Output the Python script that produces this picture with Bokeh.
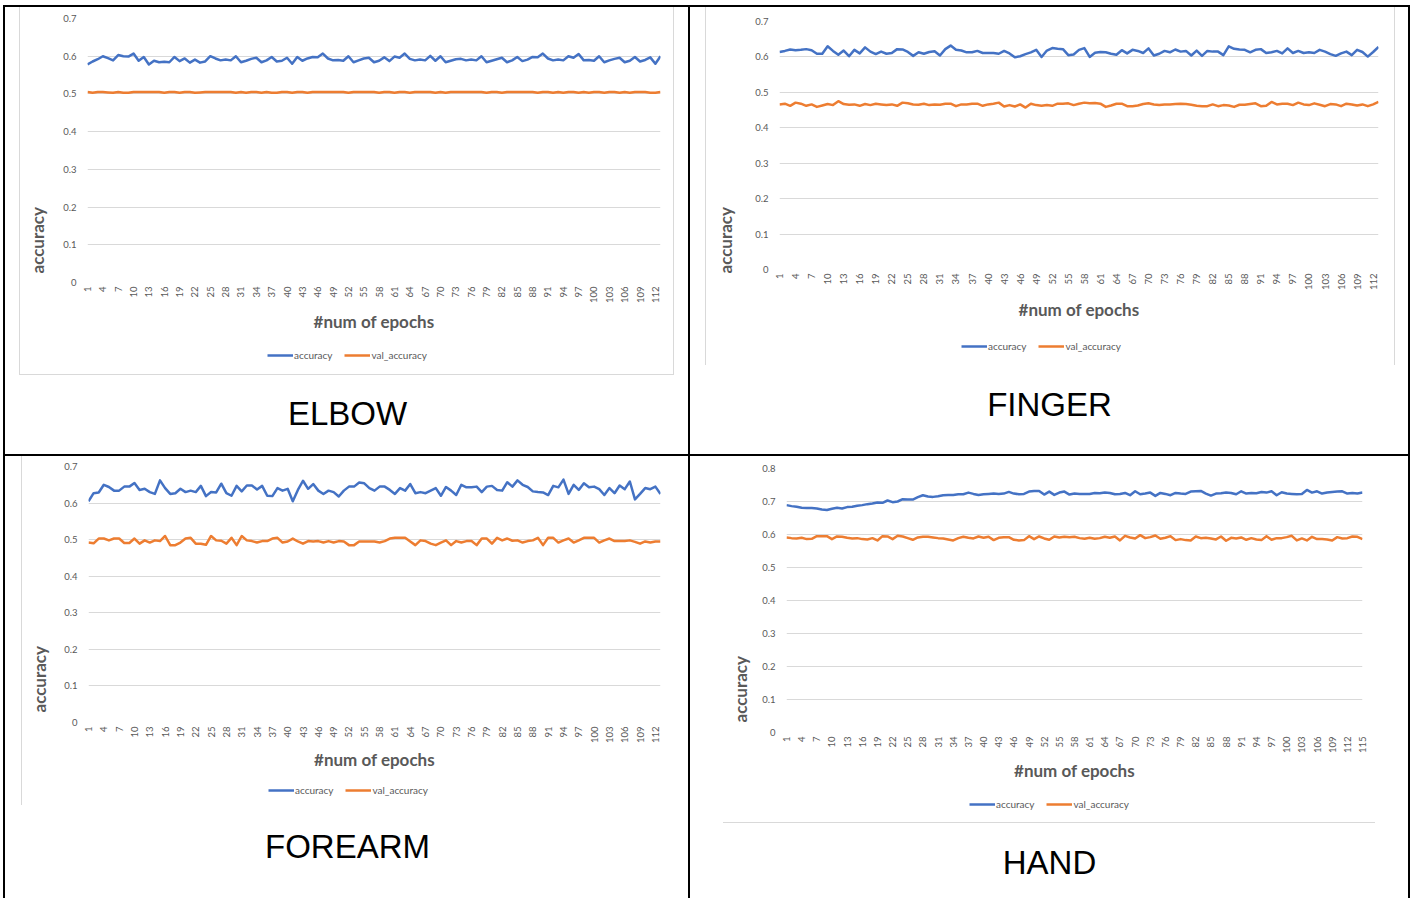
import math
from bokeh.plotting import figure
from bokeh.layouts import row, column
from bokeh.models import (Legend, LegendItem, FixedTicker, Range1d, Title,
                          CustomJSTickFormatter)
from bokeh.core.properties import value
from bokeh.embed import file_html
from bokeh.resources import INLINE

# ---------------- data ----------------
CAPTIONS = ["ELBOW", "FINGER", "FOREARM", "HAND"]
SERIES_NAMES = ["accuracy", "val_accuracy"]
X_TITLE = "#num of epochs"
Y_TITLE = "accuracy"
Y_TICKS_07 = [0, 0.1, 0.2, 0.3, 0.4, 0.5, 0.6, 0.7]
Y_TICKS_08 = [0, 0.1, 0.2, 0.3, 0.4, 0.5, 0.6, 0.7, 0.8]
X_TICK_STEP = 3

ELBOW_ACC = [
    0.578, 0.586, 0.592, 0.600, 0.595, 0.589, 0.603, 0.600, 0.599, 0.607,
    0.588, 0.598, 0.578, 0.588, 0.584, 0.585, 0.584, 0.598, 0.587, 0.594,
    0.583, 0.591, 0.583, 0.586, 0.600, 0.594, 0.589, 0.591, 0.589, 0.600,
    0.584, 0.588, 0.593, 0.596, 0.584, 0.589, 0.598, 0.586, 0.588, 0.596,
    0.580, 0.598, 0.588, 0.594, 0.598, 0.597, 0.607, 0.594, 0.589, 0.590,
    0.588, 0.600, 0.584, 0.589, 0.594, 0.596, 0.584, 0.588, 0.597, 0.587,
    0.599, 0.596, 0.607, 0.593, 0.589, 0.591, 0.589, 0.601, 0.588, 0.600,
    0.584, 0.588, 0.592, 0.593, 0.589, 0.591, 0.589, 0.600, 0.584, 0.588,
    0.592, 0.596, 0.584, 0.589, 0.598, 0.587, 0.591, 0.598, 0.597, 0.607,
    0.594, 0.589, 0.591, 0.589, 0.600, 0.596, 0.606, 0.589, 0.590, 0.588,
    0.600, 0.584, 0.589, 0.593, 0.596, 0.584, 0.588, 0.598, 0.586, 0.590,
    0.597, 0.580, 0.600,
]
ELBOW_VAL = [
    0.505, 0.503, 0.505, 0.505, 0.504, 0.503, 0.505, 0.503, 0.503, 0.505,
    0.505, 0.505, 0.505, 0.505, 0.505, 0.503, 0.505, 0.505, 0.503, 0.505,
    0.505, 0.503, 0.504, 0.505, 0.505, 0.505, 0.505, 0.505, 0.505, 0.503,
    0.505, 0.503, 0.505, 0.505, 0.503, 0.505, 0.503, 0.503, 0.505, 0.505,
    0.503, 0.505, 0.505, 0.503, 0.505, 0.505, 0.505, 0.505, 0.505, 0.505,
    0.505, 0.503, 0.505, 0.505, 0.505, 0.505, 0.505, 0.503, 0.505, 0.505,
    0.503, 0.505, 0.505, 0.503, 0.505, 0.505, 0.505, 0.505, 0.503, 0.505,
    0.503, 0.505, 0.505, 0.505, 0.505, 0.505, 0.505, 0.505, 0.503, 0.505,
    0.505, 0.503, 0.505, 0.505, 0.505, 0.505, 0.505, 0.505, 0.503, 0.505,
    0.505, 0.503, 0.505, 0.503, 0.505, 0.505, 0.503, 0.505, 0.503, 0.505,
    0.505, 0.503, 0.505, 0.505, 0.503, 0.505, 0.503, 0.505, 0.505, 0.505,
    0.503, 0.503, 0.505,
]
FINGER_ACC = [
    0.614, 0.617, 0.621, 0.619, 0.620, 0.622, 0.619, 0.609, 0.609, 0.630,
    0.617, 0.606, 0.618, 0.602, 0.620, 0.610, 0.627, 0.615, 0.608, 0.615,
    0.609, 0.611, 0.622, 0.621, 0.614, 0.603, 0.613, 0.609, 0.614, 0.616,
    0.604, 0.622, 0.632, 0.620, 0.618, 0.613, 0.613, 0.617, 0.611, 0.611,
    0.611, 0.609, 0.617, 0.610, 0.599, 0.602, 0.608, 0.613, 0.620, 0.600,
    0.618, 0.625, 0.623, 0.622, 0.605, 0.607, 0.620, 0.625, 0.600, 0.612,
    0.614, 0.613, 0.609, 0.606, 0.619, 0.610, 0.620, 0.617, 0.611, 0.624,
    0.604, 0.609, 0.617, 0.613, 0.621, 0.615, 0.617, 0.604, 0.618, 0.603,
    0.617, 0.615, 0.615, 0.605, 0.630, 0.623, 0.621, 0.620, 0.613, 0.620,
    0.622, 0.611, 0.613, 0.617, 0.610, 0.624, 0.611, 0.617, 0.611, 0.613,
    0.611, 0.620, 0.615, 0.608, 0.603, 0.610, 0.615, 0.605, 0.620, 0.614,
    0.601, 0.614, 0.628,
]
FINGER_VAL = [
    0.466, 0.468, 0.462, 0.471, 0.468, 0.462, 0.466, 0.459, 0.463, 0.467,
    0.464, 0.475, 0.467, 0.465, 0.466, 0.462, 0.467, 0.464, 0.468, 0.466,
    0.464, 0.466, 0.462, 0.471, 0.469, 0.466, 0.465, 0.468, 0.464, 0.466,
    0.465, 0.468, 0.468, 0.461, 0.466, 0.466, 0.468, 0.468, 0.462, 0.466,
    0.468, 0.471, 0.460, 0.464, 0.460, 0.466, 0.457, 0.468, 0.464, 0.462,
    0.464, 0.462, 0.468, 0.468, 0.469, 0.464, 0.468, 0.471, 0.469, 0.470,
    0.468, 0.459, 0.463, 0.468, 0.468, 0.461, 0.461, 0.463, 0.467, 0.469,
    0.466, 0.464, 0.466, 0.466, 0.467, 0.468, 0.467, 0.465, 0.462, 0.461,
    0.461, 0.466, 0.461, 0.464, 0.463, 0.459, 0.465, 0.465, 0.467, 0.469,
    0.461, 0.462, 0.473, 0.466, 0.468, 0.468, 0.464, 0.471, 0.466, 0.464,
    0.469, 0.465, 0.461, 0.467, 0.466, 0.461, 0.468, 0.466, 0.463, 0.466,
    0.461, 0.466, 0.473,
]
FOREARM_ACC = [
    0.605, 0.627, 0.629, 0.650, 0.644, 0.634, 0.634, 0.645, 0.645, 0.655,
    0.636, 0.639, 0.630, 0.625, 0.662, 0.641, 0.625, 0.627, 0.639, 0.630,
    0.634, 0.630, 0.647, 0.619, 0.630, 0.629, 0.653, 0.627, 0.620, 0.647,
    0.632, 0.648, 0.648, 0.637, 0.647, 0.620, 0.619, 0.641, 0.634, 0.639,
    0.605, 0.636, 0.661, 0.639, 0.652, 0.634, 0.625, 0.634, 0.630, 0.618,
    0.634, 0.645, 0.645, 0.656, 0.654, 0.641, 0.634, 0.645, 0.645, 0.636,
    0.625, 0.641, 0.634, 0.652, 0.627, 0.630, 0.627, 0.634, 0.641, 0.620,
    0.644, 0.634, 0.622, 0.650, 0.643, 0.643, 0.645, 0.630, 0.645, 0.647,
    0.636, 0.634, 0.657, 0.645, 0.662, 0.650, 0.644, 0.632, 0.630, 0.629,
    0.622, 0.647, 0.643, 0.664, 0.625, 0.650, 0.636, 0.654, 0.643, 0.645,
    0.638, 0.622, 0.641, 0.627, 0.648, 0.638, 0.659, 0.610, 0.625, 0.641,
    0.638, 0.645, 0.625,
]
FOREARM_VAL = [
    0.492, 0.490, 0.503, 0.503, 0.498, 0.503, 0.503, 0.491, 0.491, 0.503,
    0.489, 0.498, 0.492, 0.498, 0.496, 0.510, 0.485, 0.485, 0.492, 0.503,
    0.505, 0.489, 0.489, 0.486, 0.510, 0.498, 0.497, 0.489, 0.505, 0.485,
    0.510, 0.498, 0.496, 0.492, 0.496, 0.496, 0.503, 0.505, 0.492, 0.495,
    0.503, 0.495, 0.489, 0.496, 0.495, 0.496, 0.492, 0.496, 0.492, 0.496,
    0.495, 0.485, 0.485, 0.495, 0.495, 0.495, 0.495, 0.492, 0.496, 0.503,
    0.505, 0.505, 0.505, 0.495, 0.485, 0.498, 0.496, 0.489, 0.485, 0.492,
    0.498, 0.485, 0.496, 0.492, 0.496, 0.496, 0.485, 0.503, 0.503, 0.489,
    0.505, 0.498, 0.503, 0.497, 0.498, 0.492, 0.496, 0.498, 0.505, 0.485,
    0.505, 0.505, 0.492, 0.498, 0.503, 0.492, 0.498, 0.505, 0.505, 0.505,
    0.492, 0.498, 0.503, 0.496, 0.496, 0.496, 0.498, 0.494, 0.489, 0.495,
    0.492, 0.495, 0.495,
]
HAND_ACC = [
    0.689, 0.686, 0.684, 0.681, 0.680, 0.680, 0.679, 0.676, 0.674, 0.678,
    0.681, 0.679, 0.683, 0.684, 0.687, 0.689, 0.692, 0.694, 0.697, 0.696,
    0.703, 0.698, 0.700, 0.707, 0.706, 0.706, 0.713, 0.719, 0.715, 0.714,
    0.716, 0.719, 0.720, 0.720, 0.722, 0.722, 0.727, 0.723, 0.720, 0.722,
    0.723, 0.724, 0.723, 0.724, 0.729, 0.724, 0.722, 0.723, 0.730, 0.732,
    0.732, 0.721, 0.730, 0.720, 0.727, 0.730, 0.721, 0.724, 0.723, 0.723,
    0.723, 0.726, 0.725, 0.727, 0.726, 0.722, 0.723, 0.726, 0.719, 0.731,
    0.722, 0.724, 0.727, 0.717, 0.726, 0.723, 0.719, 0.726, 0.724, 0.723,
    0.730, 0.731, 0.732, 0.724, 0.718, 0.724, 0.725, 0.727, 0.726, 0.722,
    0.731, 0.724, 0.726, 0.725, 0.729, 0.727, 0.731, 0.719, 0.728, 0.724,
    0.723, 0.722, 0.723, 0.735, 0.727, 0.731, 0.724, 0.727, 0.729, 0.730,
    0.731, 0.724, 0.726, 0.724, 0.727,
]
HAND_VAL = [
    0.591, 0.589, 0.588, 0.590, 0.586, 0.587, 0.595, 0.595, 0.595, 0.586,
    0.594, 0.593, 0.590, 0.588, 0.589, 0.586, 0.585, 0.589, 0.582, 0.595,
    0.594, 0.586, 0.596, 0.594, 0.589, 0.584, 0.591, 0.593, 0.593, 0.591,
    0.589, 0.588, 0.585, 0.582, 0.589, 0.593, 0.590, 0.588, 0.594, 0.590,
    0.593, 0.583, 0.590, 0.592, 0.592, 0.584, 0.582, 0.583, 0.595, 0.586,
    0.594, 0.588, 0.584, 0.594, 0.591, 0.593, 0.592, 0.593, 0.589, 0.587,
    0.590, 0.587, 0.589, 0.593, 0.590, 0.594, 0.582, 0.596, 0.591, 0.588,
    0.598, 0.589, 0.592, 0.597, 0.587, 0.590, 0.595, 0.583, 0.586, 0.583,
    0.582, 0.594, 0.589, 0.590, 0.588, 0.585, 0.594, 0.581, 0.590, 0.588,
    0.591, 0.584, 0.589, 0.585, 0.583, 0.595, 0.584, 0.589, 0.589, 0.592,
    0.596, 0.582, 0.588, 0.582, 0.593, 0.586, 0.586, 0.585, 0.582, 0.592,
    0.588, 0.589, 0.594, 0.593, 0.586,
]

# ---------------- style ----------------
BLUE = "#4472C4"
ORANGE = "#ED7D31"
TXT = "#595959"
GRID = "#D9D9D9"
CHART_FONT = "Lato"
CAPTION_FONT = "Liberation Sans"


def make_chart(acc, val, yticks, width, height, frame, lay):
    fl, ft, fw, fh = frame
    fb = ft + fh
    p = figure(width=width, height=height,
               x_range=Range1d(1, max(len(acc), len(val))),
               y_range=Range1d(yticks[0], yticks[-1]),
               output_backend="svg", toolbar_location=None,
               min_border_left=fl, min_border_top=ft,
               min_border_right=width - fl - fw, min_border_bottom=height - fb)
    p.title = None
    p.outline_line_color = None
    p.background_fill_color = "white"
    p.border_fill_color = None
    p.background_fill_alpha = 1

    p.line(list(range(1, len(acc) + 1)), acc, line_color=BLUE, line_width=2.5,
           line_join="round")
    p.line(list(range(1, len(val) + 1)), val, line_color=ORANGE, line_width=2.5,
           line_join="round")

    n = len(acc)
    p.xaxis.ticker = FixedTicker(ticks=list(range(1, n + 1, X_TICK_STEP)))
    p.xaxis.major_label_orientation = math.pi / 2
    p.yaxis.ticker = FixedTicker(ticks=yticks)
    p.yaxis.formatter = CustomJSTickFormatter(code="return tick == 0 ? '0' : tick.toFixed(1);")
    for ax in (p.xaxis[0], p.yaxis[0]):
        ax.axis_line_color = None
        ax.major_tick_line_color = None
        ax.minor_tick_line_color = None
        ax.major_tick_out = 0
        ax.major_tick_in = 0
        ax.major_label_text_font = CHART_FONT
        ax.major_label_text_font_size = "9.5px"
        ax.major_label_text_color = TXT
    p.xaxis.major_label_standoff = 4
    p.yaxis.major_label_standoff = 11
    p.xgrid.visible = False
    p.ygrid.grid_line_color = GRID
    p.ygrid.grid_line_width = 1

    p.xaxis.axis_label = X_TITLE
    p.xaxis.axis_label_text_font = CHART_FONT
    p.xaxis.axis_label_text_font_size = "17px"
    p.xaxis.axis_label_text_font_style = "bold"
    p.xaxis.axis_label_text_color = TXT
    p.xaxis.axis_label_standoff = lay["xstand"]

    p.add_layout(Title(text=Y_TITLE, align="left", offset=lay["yoff"],
                       standoff=lay["ystand"], text_font=CHART_FONT,
                       text_font_size="17px", text_font_style="bold",
                       text_color=TXT), "left")
    return p


def make_footer(caption, acc, val, width, height, frame, lay):
    fl, ft, fw, fh = frame
    # frame spans the same columns as the chart frame; x data = pixel column in the cell
    f = figure(width=width, height=height,
               x_range=Range1d(fl, fl + fw), y_range=Range1d(height, 0),
               output_backend="svg", toolbar_location=None,
               x_axis_location=None, y_axis_location=None,
               min_border_left=fl, min_border_right=width - fl - fw,
               min_border_top=0, min_border_bottom=0)
    f.title = None
    f.outline_line_color = None
    f.background_fill_color = None
    f.border_fill_color = None
    f.xgrid.visible = False
    f.ygrid.visible = False
    # series drawn on an off-screen range: they only feed the legend swatches
    f.extra_y_ranges = {"off": Range1d(start=5, end=6)}
    d1 = f.line(list(range(1, len(acc) + 1)), acc, line_color=BLUE, line_width=2.5,
                y_range_name="off")
    d2 = f.line(list(range(1, len(val) + 1)), val, line_color=ORANGE, line_width=2.5,
                y_range_name="off")
    leg_h = 10
    legend = Legend(items=[LegendItem(label=SERIES_NAMES[0], renderers=[d1]),
                           LegendItem(label=SERIES_NAMES[1], renderers=[d2])],
                    orientation="horizontal",
                    location=(lay["leg_x"] - fl, height - (lay["leg_y"] + leg_h / 2)),
                    glyph_width=26, glyph_height=leg_h, label_height=leg_h,
                    label_standoff=1, spacing=12, padding=0, margin=0,
                    border_line_color=None, background_fill_alpha=0,
                    label_text_font=CHART_FONT, label_text_font_size="10px",
                    label_text_color=TXT)
    f.add_layout(legend)
    cx, cy = lay["cap"]
    f.text(x=[cx], y=[cy], text=[caption], text_font=value(CAPTION_FONT),
           text_font_size=value("33px"), text_align="center",
           text_baseline="middle", text_color="black")
    return f


def box_css(box):
    left, top, w, h, widths = box
    return (":host { position: relative; background-color: white; }"
            ":host::after { content: ''; position: absolute; pointer-events: none;"
            f" z-index: 5; left: {left}px; top: {top}px; width: {w}px; height: {h}px;"
            f" box-sizing: border-box; border-style: solid; border-color: {GRID};"
            f" border-width: {widths}; }}")


W_L, W_R = 683, 718
H_T, H_B = 447, 442

CELLS = [
    dict(acc=ELBOW_ACC, val=ELBOW_VAL, yt=Y_TICKS_07, w=W_L, h=H_T, hc=335,
         frame=(82, 11, 573, 264), box=(14, 0, 655, 368, "0 1px 1px 1px"),
         lay={"yoff": 9, "ystand": 26, "xstand": 5, "leg_x": 262, "leg_y": 14,
              "cap": (342, 71)}),
    dict(acc=FINGER_ACC, val=FINGER_VAL, yt=Y_TICKS_07, w=W_R, h=H_T, hc=325,
         frame=(89, 14, 599, 248), box=(15, 0, 690, 358, "0 1px 0 1px"),
         lay={"yoff": -4, "ystand": 34, "xstand": 6, "leg_x": 271, "leg_y": 15,
              "cap": (359, 72)}),
    dict(acc=FOREARM_ACC, val=FOREARM_VAL, yt=Y_TICKS_07, w=W_L, h=H_B, hc=325,
         frame=(83, 10, 572, 256), box=(16, 0, 2, 349, "0 0 0 1px"),
         lay={"yoff": 10, "ystand": 24, "xstand": 3, "leg_x": 263, "leg_y": 10,
              "cap": (342, 65)}),
    dict(acc=HAND_ACC, val=HAND_VAL, yt=Y_TICKS_08, w=W_R, h=H_B, hc=335,
         frame=(96, 12, 576, 264), box=(33, 366, 652, 2, "1px 0 0 0"),
         lay={"yoff": 10, "ystand": 18, "xstand": 4, "leg_x": 279, "leg_y": 14,
              "cap": (359, 71)}),
]

cells = []
for name, c in zip(CAPTIONS, CELLS):
    chart = make_chart(c["acc"], c["val"], c["yt"], c["w"], c["hc"], c["frame"], c["lay"])
    footer = make_footer(name, c["acc"], c["val"], c["w"], c["h"] - c["hc"],
                         c["frame"], c["lay"])
    cells.append(column(chart, footer, spacing=0,
                        styles={"background-color": "white"},
                        stylesheets=[box_css(c["box"])]))

col1 = column(cells[0], cells[2], spacing=2)
col2 = column(cells[1], cells[3], spacing=2)
root = row(col1, col2, spacing=2,
           styles={"background-color": "black", "padding": "2px 2px 0px 2px",
                   "margin": "5px 0px 0px 3px"})

open("out.html", "w").write(file_html(root, INLINE))
